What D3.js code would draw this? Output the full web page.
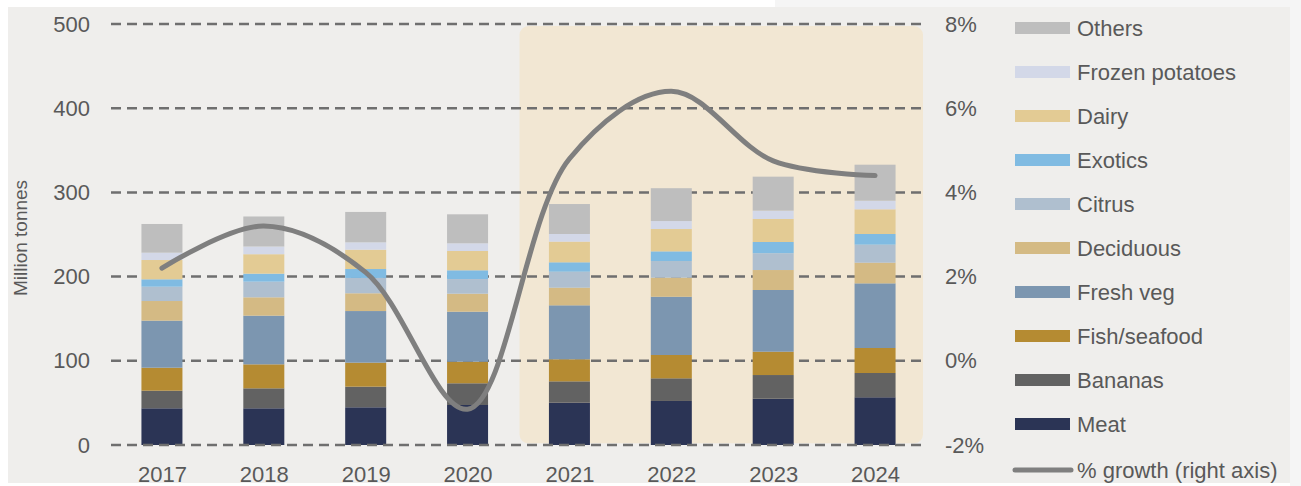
<!DOCTYPE html>
<html><head><meta charset="utf-8">
<script src="https://cdn.jsdelivr.net/npm/d3@7/dist/d3.min.js"></script>
<style>
html,body{margin:0;padding:0;background:#ffffff;}
svg{display:block;font-family:"Liberation Sans",Arial,Helvetica,sans-serif;}
</style></head>
<body>
<svg id="chart" width="1301" height="486"></svg>
<script>
const years = ["2017","2018","2019","2020","2021","2022","2023","2024"];
const seriesNames = ["Meat","Bananas","Fish/seafood","Fresh veg","Deciduous","Citrus","Exotics","Dairy","Frozen potatoes","Others"];
const meat      = [43.6, 43.6, 44.8, 47.5, 50.3, 52.3, 55.0, 56.7];
const bananas   = [20.9, 23.7, 24.5, 25.8, 25.3, 26.9, 28.1, 28.8];
const fish      = [27.3, 28.5, 28.5, 25.6, 26.2, 27.7, 27.7, 29.7];
const freshVeg  = [55.9, 57.8, 61.3, 59.4, 64.1, 69.2, 73.3, 76.8];
const deciduous = [23.3, 21.8, 21.1, 21.4, 20.9, 22.6, 23.7, 24.5];
const citrus    = [17.0, 18.6, 18.2, 17.4, 19.0, 19.8, 19.9, 21.4];
const exotics   = [8.8, 9.5, 10.6, 10.4, 11.2, 11.5, 13.4, 12.7];
const dairy     = [22.9, 23.1, 23.0, 22.9, 24.5, 26.5, 27.3, 29.3];
const frozen    = [8.7, 9.1, 8.7, 9.1, 9.1, 9.5, 9.9, 10.2];
const others    = [34.1, 35.7, 36.1, 34.5, 35.6, 39.0, 40.4, 42.8];
const growth    = [2.2, 3.2, 2.1, -1.15, 4.8, 6.4, 4.75, 4.4];
const leftTicks = [0, 100, 200, 300, 400, 500];
const rightTicks = [-2, 0, 2, 4, 6, 8];
const highlightYears = ["2021","2024"];

const seriesValues = [meat, bananas, fish, freshVeg, deciduous, citrus, exotics, dairy, frozen, others];
const colors = ["#2b3455","#626262","#b58b32","#7c96b0","#d4ba84","#afbfcf","#80bbe2","#e3cb94","#d3d8e8","#bebebe"];

const svg = d3.select("#chart");
const textColor = "#595959";
const fontFam = "Liberation Sans, Arial, sans-serif";

// background panels
svg.append("rect").attr("x",775).attr("y",0).attr("width",526).attr("height",8).attr("fill","#f5f5f5");
svg.append("rect").attr("x",1290).attr("y",0).attr("width",11).attr("height",486).attr("fill","#f5f5f5");
svg.append("rect").attr("x",8).attr("y",7).attr("width",1282).attr("height",476).attr("fill","#efeeec");

const x = d3.scalePoint().domain(years).range([111, 926]).padding(0.5);
const step = x.step();
const yL = d3.scaleLinear().domain([0, 500]).range([445, 24]);
const yR = d3.scaleLinear().domain([-2, 8]).range([445, 24]);
const barW = 41;

// highlight region
const hx0 = x(highlightYears[0]) - step/2 + 1;
const hx1 = x(highlightYears[1]) + step/2 - 3;
svg.append("rect")
  .attr("x", hx0)
  .attr("y", yL(497.5))
  .attr("width", hx1 - hx0)
  .attr("height", yL(2) - yL(497.5))
  .attr("rx", 9).attr("fill", "#f2e7d3");

// gridlines (excluding 0, drawn later on top)
svg.append("g").selectAll("line").data(leftTicks.filter(d => d !== 0)).join("line")
  .attr("x1", 111).attr("x2", 921)
  .attr("y1", d => yL(d)).attr("y2", d => yL(d))
  .attr("stroke", "#6f6f6f").attr("stroke-width", 2.5)
  .attr("stroke-dasharray", "10,6");

// stacked bars
const table = years.map((yr, i) => {
  const o = {year: yr};
  seriesNames.forEach((s, k) => o[s] = seriesValues[k][i]);
  return o;
});
const stack = d3.stack().keys(seriesNames)(table);
svg.append("g").selectAll("g").data(stack).join("g")
  .attr("fill", (d, k) => colors[k])
  .selectAll("rect").data(d => d).join("rect")
  .attr("x", d => x(d.data.year) - barW/2)
  .attr("width", barW)
  .attr("y", d => yL(d[1]))
  .attr("height", d => yL(d[0]) - yL(d[1]));

// zero line on top
svg.append("line")
  .attr("x1", 111).attr("x2", 921)
  .attr("y1", yL(0)).attr("y2", yL(0))
  .attr("stroke", "#6f6f6f").attr("stroke-width", 2.5)
  .attr("stroke-dasharray", "10,6");

// growth line
const line = d3.line().x((d, i) => x(years[i])).y(d => yR(d)).curve(d3.curveCatmullRom.alpha(0.5));
svg.append("path").datum(growth)
  .attr("d", line).attr("fill", "none")
  .attr("stroke", "#7f7f7f").attr("stroke-width", 5)
  .attr("stroke-linecap", "round").attr("stroke-linejoin", "round");

// left axis labels
const axisL = d3.axisLeft(yL).tickValues(leftTicks).tickSize(0).tickPadding(0);
const gL = svg.append("g").attr("transform", "translate(90,0)").call(axisL);
gL.select(".domain").remove();
gL.selectAll("text").attr("fill", textColor).attr("font-size", 22).attr("font-family", fontFam);

// right axis labels
const axisR = d3.axisRight(yR).tickValues(rightTicks).tickSize(0).tickPadding(0).tickFormat(d => d + "%");
const gR = svg.append("g").attr("transform", "translate(945,0)").call(axisR);
gR.select(".domain").remove();
gR.selectAll("text").attr("fill", textColor).attr("font-size", 22).attr("font-family", fontFam);

// x axis labels
const axisB = d3.axisBottom(x).tickSize(0).tickPadding(0);
const gB = svg.append("g").attr("transform", "translate(0,466)").call(axisB);
gB.select(".domain").remove();
gB.selectAll("text").attr("fill", textColor).attr("font-size", 22).attr("font-family", fontFam);

// y axis title
svg.append("text")
  .attr("transform", "translate(27,238) rotate(-90)")
  .attr("text-anchor", "middle")
  .attr("fill", textColor).attr("font-size", 19)
  .text("Million tonnes");

// legend
const legendItems = seriesNames.map((s, k) => ({name: s, color: colors[k]})).reverse();
const lg = svg.append("g");
const rowY = i => 28 + i * 44;
lg.selectAll("rect").data(legendItems).join("rect")
  .attr("x", 1015).attr("width", 55)
  .attr("y", (d, i) => rowY(i) - 6).attr("height", 12)
  .attr("fill", d => d.color);
lg.selectAll("text.lt").data(legendItems.map(d => d.name).concat(["% growth (right axis)"])).join("text")
  .attr("class", "lt")
  .attr("x", 1077).attr("y", (d, i) => (i < 10 ? rowY(i) : 470))
  .attr("dy", "0.35em")
  .attr("fill", textColor).attr("font-size", 22)
  .text(d => d);
lg.append("line")
  .attr("x1", 1015).attr("x2", 1071).attr("y1", 470).attr("y2", 470)
  .attr("stroke", "#7f7f7f").attr("stroke-width", 5).attr("stroke-linecap", "round");
</script>
</body></html>
